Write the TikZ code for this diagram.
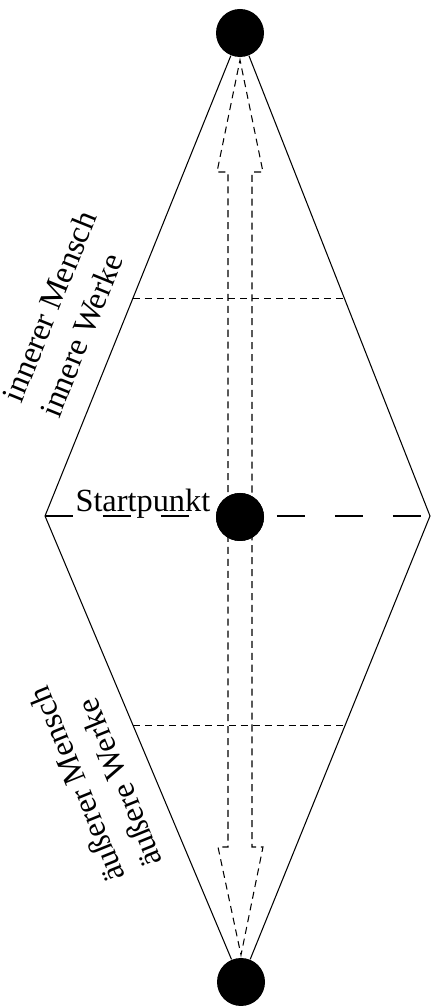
\documentclass[tikz,border=0pt]{standalone}
\usepackage{fontspec}
\setmainfont{Liberation Serif}
\usetikzlibrary{calc}

\begin{document}
\begin{tikzpicture}[line width=0.3pt,
    dot/.style={circle,fill=black,inner sep=0pt,minimum size=0.48cm},
    lbl/.style={font=\fontsize{9.2pt}{11.5pt}\selectfont,align=left,inner sep=0pt},
    short dash/.style={dash pattern=on 2pt off 1.4pt},
    long dash/.style={dash pattern=on 8pt off 8.5pt}]
  \useasboundingbox (0,0) rectangle (4.31,10.07);
  \node[dot] (top) at (2.40,9.74) {};
  \node[dot] (start) at (2.40,4.90) {};
  \node[dot] (bot) at (2.41,0.25) {};
  \coordinate (left) at (0.45,4.91);
  \coordinate (right) at (4.30,4.91);
  % outline
  \draw (left) -- (top) -- (right) -- (bot) -- (left);
  \draw[long dash] (left) -- (right);
  \draw[short dash] ($(left)!0.45!(top)$) -- ($(right)!0.45!(top)$);
  \draw[short dash] ($(left)!0.45!(bot)$) -- ($(right)!0.45!(bot)$);
  % double arrow
  \draw[short dash] (2.28,4.91) -- (2.28,8.35) -- (2.17,8.35) -- (2.40,9.47)
    -- (2.63,8.35) -- (2.52,8.35) -- (2.52,1.60) -- (2.63,1.60) -- (2.41,0.52)
    -- (2.18,1.60) -- (2.28,1.60) -- cycle;
  \node[dot] at (start) {};
  \node[lbl,anchor=base west] (startlbl) at (0.75,4.95) {Startpunkt};
  \node[lbl,rotate=68] (inner) at (0.68,6.93) {innerer Mensch\\innere Werke};
  \node[lbl,rotate=112] (outer) at (0.95,2.30) {äußerer Mensch\\äußere Werke};
\end{tikzpicture}
\end{document}
